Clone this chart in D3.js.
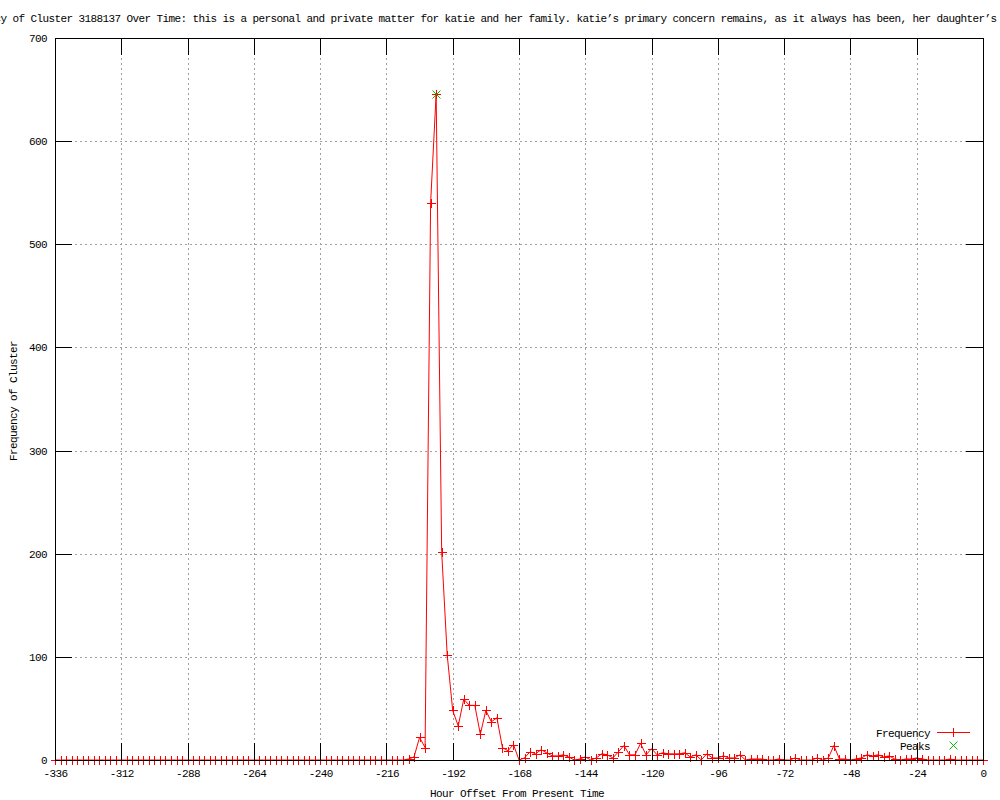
<!DOCTYPE html>
<html><head><meta charset="utf-8">
<script src="https://cdn.jsdelivr.net/npm/d3@7"></script>
<style>
html,body{margin:0;padding:0;background:#fff;}
svg{display:block;}
text{font-family:"Liberation Mono","DejaVu Sans Mono",monospace;font-size:11px;letter-spacing:-0.6px;fill:#000;}
</style></head>
<body>
<script>
const titleText = "Frequency of Cluster 3188137 Over Time: this is a personal and private matter for katie and her family. katie\u2019s primary concern remains, as it always has been, her daughter\u2019s welfare";
const xLabel = "Hour Offset From Present Time";
const yLabel = "Frequency of Cluster";
const seriesNames = ["Frequency", "Peaks"];

const hours = [-336,-334,-332,-330,-328,-326,-324,-322,-320,-318,-316,-314,-312,-310,-308,-306,
-304,-302,-300,-298,-296,-294,-292,-290,-288,-286,-284,-282,-280,-278,-276,-274,
-272,-270,-268,-266,-264,-262,-260,-258,-256,-254,-252,-250,-248,-246,-244,-242,
-240,-238,-236,-234,-232,-230,-228,-226,-224,-222,-220,-218,-216,-214,-212,-210,
-208,-206,-204,-202,-200,-198,-196,-194,-192,-190,-188,-186,-184,-182,-180,-178,-176,-174,-172,-170,
-168,-166,-164,-162,-160,-158,-156,-154,-152,-150,-148,-146,-144,-142,-140,-138,-136,-134,-132,-130,
-128,-126,-124,-122,-120,-118,-116,-114,-112,-110,-108,-106,-104,-102,-100,-98,-96,-94,-92,-90,
-88,-86,-84,-82,-80,-78,-76,-74,-72,-70,-68,-66,-64,-62,-60,-58,-56,-54,-52,-50,
-48,-46,-44,-42,-40,-38,-36,-34,-32,-30,-28,-26,-24,-22,-20,-18,-16,-14,-12,-10,
-8,-6,-4,-2,0];

const frequency = [0,0,0,0,0,0,0,0,0,0,0,0,0,0,0,0,
0,0,0,0,0,0,0,0,0,0,0,0,0,0,0,0,
0,0,0,0,0,0,0,0,0,0,0,0,0,0,0,0,
0,0,0,0,0,0,0,0,0,0,0,0,0,0,0,0,
1,3,22,12,540,646,202,102,48,33,59,53,53,25,48,37,41,12,9,15,
0,2,8,6,10,7,4,4,5,3,0,1,3,0,2,6,5,2,8,14,
5,5,16,5,11,5,7,6,6,6,7,3,5,0,6,2,2,4,2,2,
5,0,1,1,1,0,0,1,0,0,2,0,0,0,2,0,2,14,1,1,
0,1,2,5,4,5,3,4,1,0,1,1,2,1,0,0,0,0,1,0,
0,0,0,0,0];

const peakHours = [-198];
const peakValues = [646];

const xTicks = [-336,-312,-288,-264,-240,-216,-192,-168,-144,-120,-96,-72,-48,-24,0];
const yTicks = [0,100,200,300,400,500,600,700];

const W = 1000, H = 800;
const M = {left:55, right:983, top:38, bottom:760};
const TIC = 17;

const svg = d3.select("body").append("svg").attr("width", W).attr("height", H);
const x = d3.scaleLinear().domain([-336, 0]).range([M.left, M.right]);
const y = d3.scaleLinear().domain([0, 700]).range([M.bottom, M.top]);

// grid
const grid = svg.append("g").attr("shape-rendering","crispEdges")
  .attr("stroke","#a0a0a0").attr("stroke-width",1).attr("stroke-dasharray","2,3");
grid.selectAll("line.gx").data(xTicks.slice(1,-1)).join("line").attr("class","gx")
  .attr("x1", d => Math.round(x(d))+0.5).attr("x2", d => Math.round(x(d))+0.5)
  .attr("y1", M.top).attr("y2", M.bottom);
grid.selectAll("line.gy").data(yTicks.slice(1,-1)).join("line").attr("class","gy")
  .attr("y1", d => Math.round(y(d))+0.5).attr("y2", d => Math.round(y(d))+0.5)
  .attr("x1", M.left).attr("x2", M.right);

// data
const pts = hours.map((h,i) => [h, frequency[i]]);
const red = "#ff0000", green = "#00c000";
svg.append("path").datum(pts)
  .attr("fill","none").attr("stroke",red).attr("stroke-width",1)
  .attr("d", d3.line().x(d => x(d[0])).y(d => y(d[1])));

function plus(g, cx, cy, s, col){
  g.append("path").attr("d", `M${cx-s},${cy}H${cx+s}M${cx},${cy-s}V${cy+s}`)
   .attr("stroke", col).attr("stroke-width",1).attr("fill","none");
}
function cross(g, cx, cy, s, col){
  g.append("path").attr("d", `M${cx-s},${cy-s}L${cx+s},${cy+s}M${cx-s},${cy+s}L${cx+s},${cy-s}`)
   .attr("stroke", col).attr("stroke-width",1).attr("fill","none");
}
const mk = svg.append("g").attr("shape-rendering","crispEdges");
pts.forEach(d => plus(mk, Math.round(x(d[0]))+0.5, Math.round(y(d[1]))+0.5, 4.5, red));
const pk = svg.append("g");
peakHours.forEach((h,i) => cross(pk, Math.round(x(h))+0.5, Math.round(y(peakValues[i]))+0.5, 4, green));

// border + ticks (front)
const ax = svg.append("g").attr("shape-rendering","crispEdges").attr("stroke","#000").attr("stroke-width",1);
ax.append("rect").attr("x", M.left+0.5).attr("y", M.top+0.5)
  .attr("width", M.right-M.left).attr("height", M.bottom-M.top).attr("fill","none");
xTicks.forEach(t => {
  const px = Math.round(x(t))+0.5;
  ax.append("line").attr("x1",px).attr("x2",px).attr("y1",M.bottom).attr("y2",M.bottom-TIC);
  ax.append("line").attr("x1",px).attr("x2",px).attr("y1",M.top).attr("y2",M.top+TIC);
});
yTicks.forEach(t => {
  const py = Math.round(y(t))+0.5;
  ax.append("line").attr("y1",py).attr("y2",py).attr("x1",M.left).attr("x2",M.left+TIC);
  ax.append("line").attr("y1",py).attr("y2",py).attr("x1",M.right).attr("x2",M.right-TIC);
});

// axis tick labels via d3 axes (lines hidden, text only)
const xAxis = d3.axisBottom(x).tickValues(xTicks).tickSize(0).tickPadding(0).tickFormat(d => String(d));
const gx = svg.append("g").attr("transform", `translate(0,${M.bottom+17})`).call(xAxis);
gx.select(".domain").remove();
gx.selectAll("text").attr("dy", null).attr("y", 0)
  .style("font-family",'"Liberation Mono","DejaVu Sans Mono",monospace').style("font-size","11px").attr("fill","#000");

const yAxis = d3.axisLeft(y).tickValues(yTicks).tickSize(0).tickPadding(0).tickFormat(d => String(d));
const gy = svg.append("g").attr("transform", `translate(${M.left-8},0)`).call(yAxis);
gy.select(".domain").remove();
gy.selectAll("text").attr("dy","0.32em").attr("x",0)
  .style("font-family",'"Liberation Mono","DejaVu Sans Mono",monospace').style("font-size","11px").attr("fill","#000");

// title: one text, each glyph placed on a 6px monospace grid
const titleXs = Array.from(titleText).map((c, i) => -47.5 + i * 6).join(" ");
svg.append("text").attr("x", titleXs).attr("y", 22).attr("text-anchor","start")
  .style("letter-spacing","0px")
  .text(titleText);
svg.append("text").attr("x", 517).attr("y", 797).attr("text-anchor","middle").text(xLabel);
svg.append("text").attr("transform","translate(17,401) rotate(-90)").attr("text-anchor","middle").text(yLabel);

// legend
const lg = svg.append("g");
lg.append("text").attr("x", 930).attr("y", 737).attr("text-anchor","end").text(seriesNames[0]);
lg.append("line").attr("x1",937).attr("x2",970).attr("y1",732.5).attr("y2",732.5)
  .attr("stroke",red).attr("stroke-width",1).attr("shape-rendering","crispEdges");
plus(lg, 953.5, 732.5, 4.5, red);
lg.append("text").attr("x", 930).attr("y", 750).attr("text-anchor","end").text(seriesNames[1]);
cross(lg, 953.5, 745.5, 4, green);
</script>
</body></html>
